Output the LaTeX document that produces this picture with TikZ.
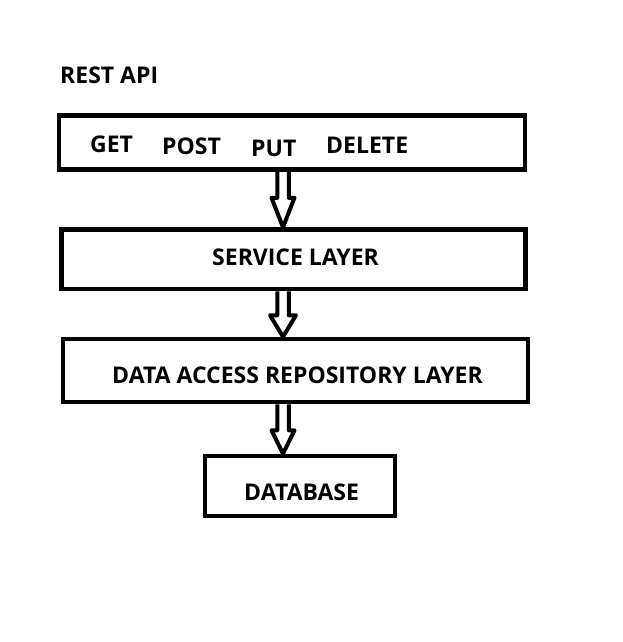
\documentclass[tikz,border=0pt]{standalone}
\usepackage{fontspec}
\setmainfont{Open Sans}
\usetikzlibrary{calc}
\begin{document}
\begin{tikzpicture}[x=1pt,y=-1pt,
  box/.style={draw, line width=4.5pt, rectangle, inner sep=0pt},
  lbl/.style={anchor=base west, inner sep=0pt, font=\fontsize{23}{27}\selectfont\bfseries},
  arrowline/.style={draw, line width=4pt, line join=round, line cap=butt}]
\useasboundingbox (0,0) rectangle (622,642);
\fill[white] (0,0) rectangle (622,642);
% boxes
\node[box, minimum width=466pt, minimum height=54pt] (b1) at (292,142.5) {};
\node[box, minimum width=464pt, minimum height=59.5pt] (b2) at (293.5,259.25) {};
\node[box, minimum width=465pt, minimum height=63pt] (b3) at (295.5,370.5) {};
\node[box, minimum width=190pt, minimum height=60pt] (b4) at (300,486) {};
% labels
\node[lbl] (rest) at (60,83) {REST API};
\node[lbl] (get) at (90,152) {GET};
\node[lbl] (post) at (162,154) {POST};
\node[lbl] (put) at (251,156) {PUT};
\node[lbl] (del) at (326,153) {DELETE};
\node[lbl] (svc) at (212,265) {SERVICE LAYER};
\node[lbl] (dar) at (112,383) {DATA ACCESS REPOSITORY LAYER};
\node[lbl] (db) at (244,500) {DATABASE};
% arrow anchor coordinates
\coordinate (ax) at (283,0);
\coordinate (s1) at (ax |- b1.south);
\coordinate (e1) at (ax |- b2.north);
\coordinate (s2) at (ax |- b2.south);
\coordinate (e2) at (ax |- b3.north);
\coordinate (s3) at (ax |- b3.south);
\coordinate (e3) at (ax |- b4.north);
\newcommand\hollowdown[4]{%
  \draw[arrowline] let \p1=(#1), \p2=(#2) in
    (\x1-5.75pt,\y1) -- (\x1-5.75pt,\y1-#3) -- (\x1-#4,\y1-#3) -- (\x2,\y2)
    -- (\x1+#4,\y1-#3) -- (\x1+5.75pt,\y1-#3) -- (\x1+5.75pt,\y1);}
\hollowdown{s1}{e1}{26pt}{11.5pt}
\hollowdown{s2}{e2}{24pt}{13pt}
\hollowdown{s3}{e3}{26pt}{11.5pt}
\end{tikzpicture}
\end{document}
